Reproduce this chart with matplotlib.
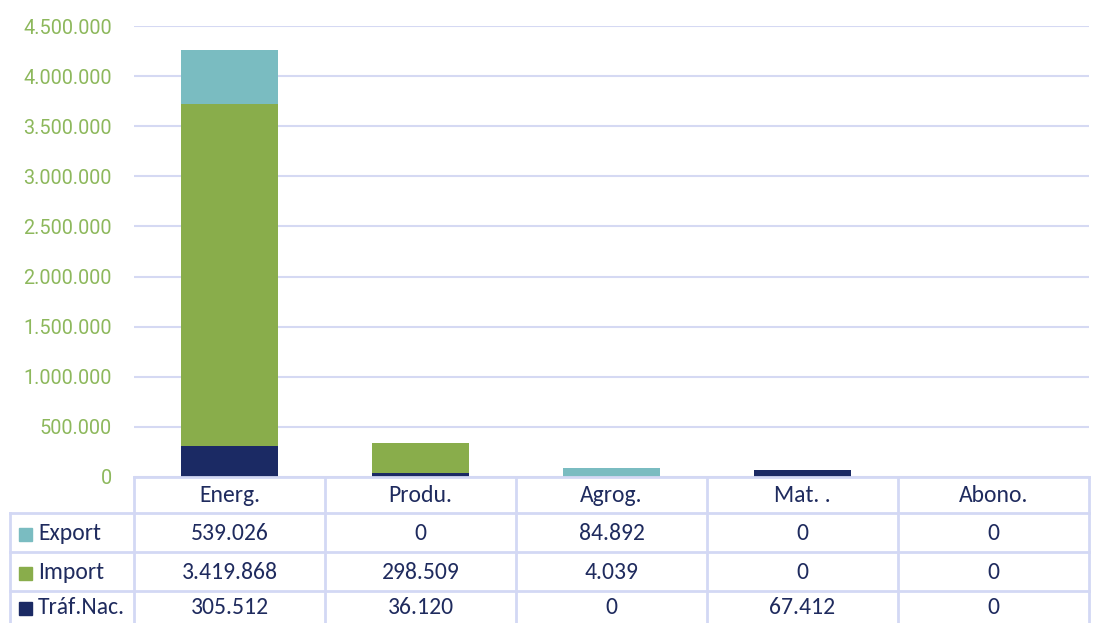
import matplotlib.pyplot as plt
from matplotlib import font_manager
import numpy as np

categories = ["Energ.", "Produ.", "Agrog.", "Mat. .", "Abono."]
series_names = ["Export", "Import", "Tráf.Nac."]
trafico = [305512, 36120, 0, 67412, 0]
importacion = [3419868, 298509, 4039, 0, 0]
exportacion = [539026, 0, 84892, 0, 0]
colors = {"Export": "#7abcc1", "Import": "#89ad4b", "Tráf.Nac.": "#1b2a64"}

yticks = np.arange(0, 4500001, 500000)


def fmt(v):
    return f"{v:,.0f}".replace(",", ".")


# narrow font for the axis labels if there is one
names = {f.name for f in font_manager.fontManager.ttflist}
if "Liberation Sans Narrow" in names:
    tick_fp = font_manager.FontProperties(family=["Liberation Sans Narrow", "DejaVu Sans"], size=16)
else:
    tick_fp = font_manager.FontProperties(family=["Roboto", "DejaVu Sans"], size=14.3)

tfont = ["Carlito", "DejaVu Sans"] if "Carlito" in names else ["Lato", "DejaVu Sans"]
tsize = 17 if "Carlito" in names else 16.5

W, H = 1103, 623
fig = plt.figure(figsize=(W / 100, H / 100), dpi=100)

x0, x1, ytop, ybot = 134, 1089, 26, 477
ax = fig.add_axes([x0 / W, 1 - ybot / H, (x1 - x0) / W, (ybot - ytop) / H])

x = np.arange(len(categories))
bw = 0.51
ax.bar(x, trafico, bw, color=colors["Tráf.Nac."], zorder=3)
ax.bar(x, importacion, bw, bottom=trafico, color=colors["Import"], zorder=3)
bottom2 = np.array(trafico) + np.array(importacion)
ax.bar(x, exportacion, bw, bottom=bottom2, color=colors["Export"], zorder=3)

ax.set_xlim(-0.5, len(categories) - 0.5)
ax.set_ylim(0, 4500000)
ax.set_yticks(yticks)
ax.set_yticklabels([fmt(v) for v in yticks], fontproperties=tick_fp, color="#8db85c")
ax.set_xticks([])
ax.tick_params(axis="y", length=0, pad=16)
ax.yaxis.grid(True, color="#d5d9f3", lw=1.5, zorder=0)
for s in ax.spines.values():
    s.set_visible(False)

# data table
tab = fig.add_axes([0, 0, 1, 1])
tab.set_xlim(0, W)
tab.set_ylim(H, 0)
tab.axis("off")
tab.patch.set_alpha(0)

line_c = "#d3d8f4"
text_c = "#1f2b5e"
col_w = (x1 - x0) / len(categories)
col_edges = [x0 + i * col_w for i in range(len(categories) + 1)]
row_edges = [477, 513, 552, 591, 640]
left = 10

for cx in col_edges:
    tab.plot([cx, cx], [row_edges[0], H], color=line_c, lw=2)
tab.plot([left, left], [row_edges[1], H], color=line_c, lw=2)
tab.plot([x0, x1], [row_edges[0], row_edges[0]], color=line_c, lw=2)
for ry in row_edges[1:4]:
    tab.plot([left, x1], [ry, ry], color=line_c, lw=2)

for j, c in enumerate(categories):
    tab.text((col_edges[j] + col_edges[j + 1]) / 2, (row_edges[0] + row_edges[1]) / 2 + 1,
             c, ha="center", va="center", fontsize=tsize, color=text_c, family=tfont)

rows = [("Export", exportacion), ("Import", importacion), ("Tráf.Nac.", trafico)]
for r, (name, vals) in enumerate(rows):
    cy = (row_edges[r + 1] + row_edges[r + 2]) / 2 + 1
    if r == 2:
        cy = 608
    tab.add_patch(plt.Rectangle((19, cy - 6), 13, 13, color=colors[name]))
    tab.text(38, cy, name, ha="left", va="center", fontsize=tsize, color=text_c, family=tfont)
    for j, v in enumerate(vals):
        tab.text((col_edges[j] + col_edges[j + 1]) / 2, cy, fmt(v),
                 ha="center", va="center", fontsize=tsize, color=text_c, family=tfont)

fig.savefig("out.png", dpi=100)
